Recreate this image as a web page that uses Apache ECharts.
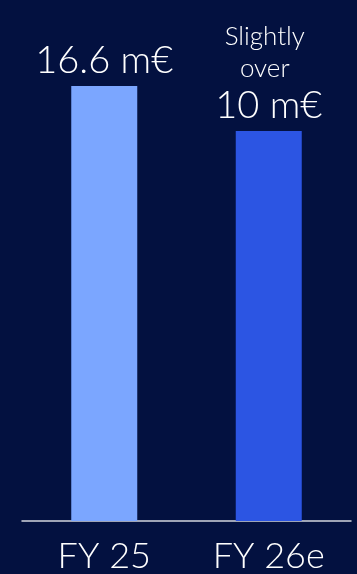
<!DOCTYPE html>
<html>
<head>
<meta charset="utf-8">
<script src="https://cdn.jsdelivr.net/npm/echarts@6/dist/echarts.min.js"></script>
<style>
  html, body { margin: 0; padding: 0; background: #031140; }
  #chart { width: 357px; height: 574px; }
</style>
</head>
<body>
<div id="chart"></div>
<script>
// Revenue by fiscal year (m€)
const categories = ['FY 25', 'FY 26e'];
const values = [16.6, 10.2];
const labelLead = ['', 'Slightly\nover'];
const labelMain = ['16.6 m€', '10 m€'];
const barColors = ['#7BA6FF', '#2C55E3'];

// hidden value scale; bars grow from the bottom of the plot
const AXIS_FLOOR = -45.3;
const AXIS_TOP = 16.6;

const FONT = 'Lato';

const chart = echarts.init(document.getElementById('chart'));

chart.setOption({
  backgroundColor: '#031140',
  animation: false,
  grid: { left: 22, right: 6, top: 86, bottom: 53 },
  xAxis: {
    type: 'category',
    data: categories,
    axisLine: { onZero: false, lineStyle: { color: '#D4D6DE', width: 1.5 } },
    axisTick: { show: false },
    axisLabel: {
      color: '#FFFFFF',
      fontFamily: FONT,
      fontWeight: 300,
      fontSize: 36,
      margin: 17
    }
  },
  yAxis: {
    type: 'value',
    min: AXIS_FLOOR,
    max: AXIS_TOP,
    startValue: AXIS_FLOOR,
    show: false,
    splitLine: { show: false }
  },
  series: [{
    type: 'bar',
    barWidth: 66,
    data: values.map((v, i) => ({ value: v, itemStyle: { color: barColors[i] } })),
    label: {
      show: true,
      position: 'top',
      distance: 4,
      formatter: (p) => {
        const lead = labelLead[p.dataIndex];
        const leadPart = lead ? lead.split('\n').map(t => '{s|' + t + '}').join('\n') + '\n' : '';
        return leadPart + '{b|' + labelMain[p.dataIndex] + '}';
      },
      rich: {
        s: { color: '#FFFFFF', fontFamily: FONT, fontWeight: 300, fontSize: 26, lineHeight: 32, padding: [0, 8, 0, 0] },
        b: { color: '#FFFFFF', fontFamily: FONT, fontWeight: 300, fontSize: 38, lineHeight: 42 }
      }
    }
  }]
});
</script>
</body>
</html>
